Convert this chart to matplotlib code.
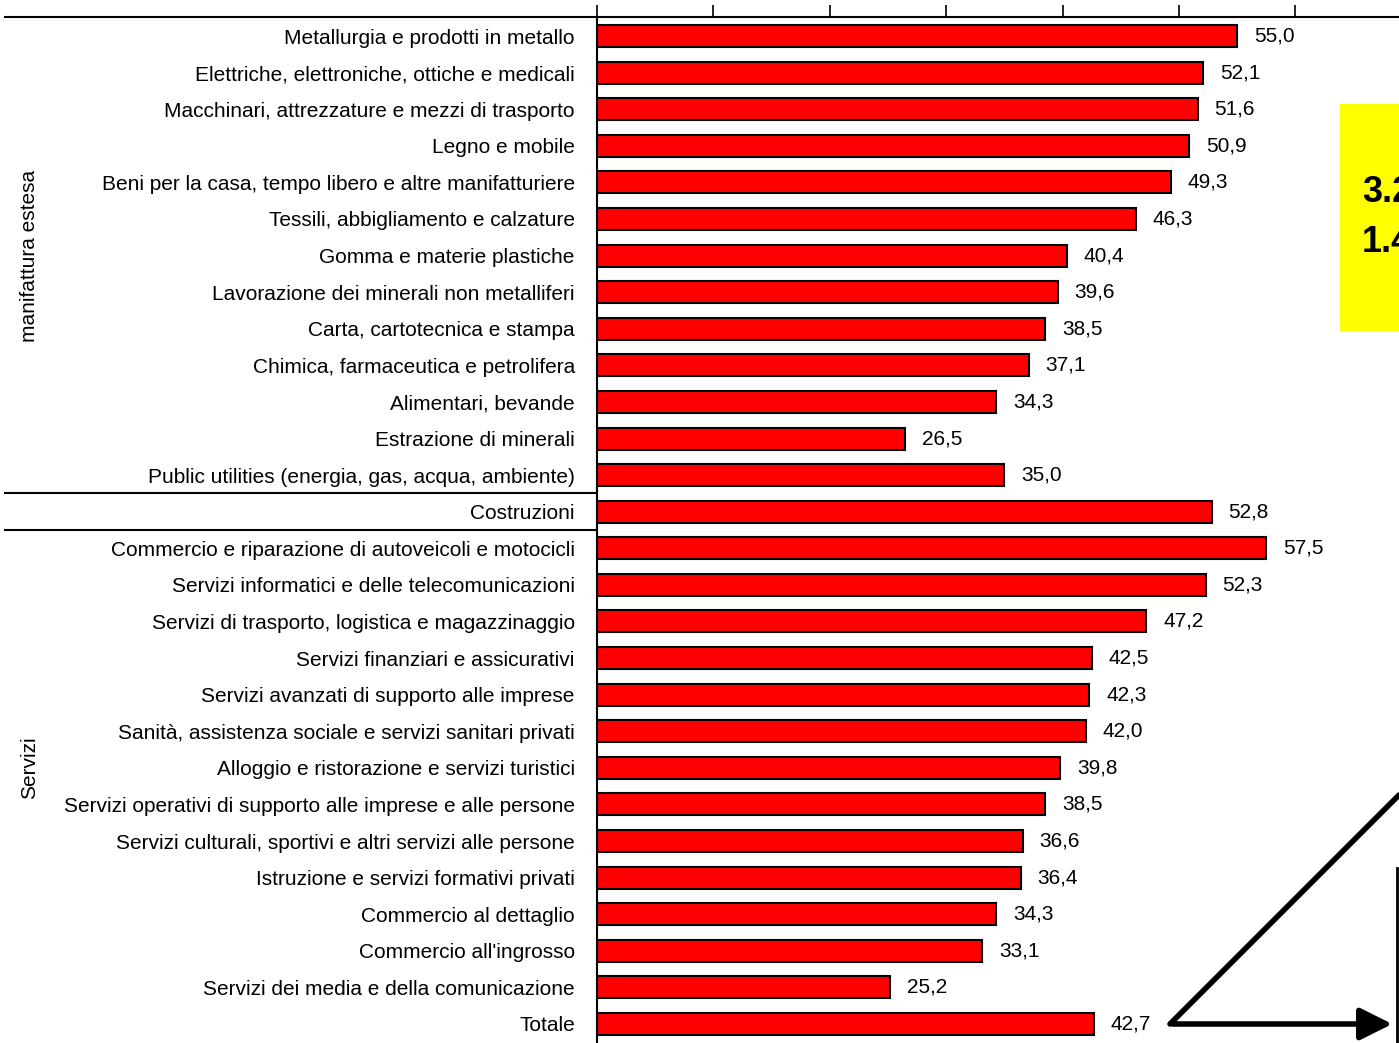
import matplotlib.pyplot as plt
from matplotlib.lines import Line2D
from matplotlib.patches import Rectangle, FancyArrowPatch
from matplotlib.transforms import blended_transform_factory

settori = [
    "Metallurgia e prodotti in metallo",
    "Elettriche, elettroniche, ottiche e medicali",
    "Macchinari, attrezzature e mezzi di trasporto",
    "Legno e mobile",
    "Beni per la casa, tempo libero e altre manifatturiere",
    "Tessili, abbigliamento e calzature",
    "Gomma e materie plastiche",
    "Lavorazione dei minerali non metalliferi",
    "Carta, cartotecnica e stampa",
    "Chimica, farmaceutica e petrolifera",
    "Alimentari, bevande",
    "Estrazione di minerali",
    "Public utilities (energia, gas, acqua, ambiente)",
    "Costruzioni",
    "Commercio e riparazione di autoveicoli e motocicli",
    "Servizi informatici e delle telecomunicazioni",
    "Servizi di trasporto, logistica e magazzinaggio",
    "Servizi finanziari e assicurativi",
    "Servizi avanzati di supporto alle imprese",
    "Sanità, assistenza sociale e servizi sanitari privati",
    "Alloggio e ristorazione e servizi turistici",
    "Servizi operativi di supporto alle imprese e alle persone",
    "Servizi culturali, sportivi e altri servizi alle persone",
    "Istruzione e servizi formativi privati",
    "Commercio al dettaglio",
    "Commercio all'ingrosso",
    "Servizi dei media e della comunicazione",
    "Totale",
]
valori = [55.0, 52.1, 51.6, 50.9, 49.3, 46.3, 40.4, 39.6, 38.5, 37.1, 34.3, 26.5, 35.0,
          52.8,
          57.5, 52.3, 47.2, 42.5, 42.3, 42.0, 39.8, 38.5, 36.6, 36.4, 34.3, 33.1, 25.2,
          42.7]
gruppi = [("manifattura estesa", 0, 12), ("Servizi", 14, 26)]
riquadro = ["3.2", "1.4"]

plt.rcParams['font.family'] = ['Liberation Sans', 'DejaVu Sans']

W, H = 1399, 1043
fig = plt.figure(figsize=(W / 100, H / 100), dpi=100)
ax = fig.add_axes([597 / W, 0, 1 - 597 / W, 1 - 17 / H])

y = list(range(len(settori)))
ax.barh(y, valori, height=0.6, color='#ff0000', edgecolor='black', linewidth=1.5)
ax.set_xlim(0, (W - 597) / 11.64)
ax.set_ylim(len(settori) - 0.48, -0.52)

ax.set_yticks(y)
ax.set_yticklabels(settori, fontsize=15)
ax.tick_params(axis='y', length=0, pad=16)
ax.xaxis.tick_top()
ax.set_xticks(range(0, 70, 10))
ax.tick_params(axis='x', length=9, width=1.2, direction='out', labeltop=False)
for s in ['right', 'bottom']:
    ax.spines[s].set_visible(False)
ax.spines['top'].set_linewidth(1.5)
ax.spines['left'].set_linewidth(1.5)

for yi, v in zip(y, valori):
    ax.annotate(f"{v:.1f}".replace('.', ','), (v, yi), xytext=(12, 0),
                textcoords='offset points', va='center', ha='left', fontsize=15)

# separatori e etichette di gruppo
tr = blended_transform_factory(fig.transFigure, ax.transData)
for ys in [-0.52, 12.5, 13.5]:
    fig.add_artist(Line2D([5 / W, 597 / W], [ys, ys], transform=tr, color='black', lw=1.5))
for nome, a, b in gruppi:
    fig.text(30 / W, (a + b) / 2, nome, transform=tr,
             rotation=90, ha='center', va='center', fontsize=15)

# riquadro giallo (tagliato dal bordo)
fig.add_artist(Rectangle((1340 / W, 1 - 331 / H), 0.1, 227 / H, transform=fig.transFigure,
                         facecolor='#ffff00', edgecolor='none'))
fig.text(1362 / W, 1 - 193 / H, riquadro[0], fontsize=26, fontweight='bold',
         va='center', ha='left')
fig.text(1362 / W, 1 - 243 / H, riquadro[1], fontsize=26, fontweight='bold',
         va='center', ha='left')

# frecce
fig.add_artist(FancyArrowPatch((1170 / W, 1 - 1024 / H), (1395 / W, 1 - 1024 / H),
                               transform=fig.transFigure, arrowstyle='-|>,head_length=1.4,head_width=0.7',
                               mutation_scale=14, lw=4, color='black'))
fig.add_artist(Line2D([1170 / W, 1.0], [1 - 1024 / H, 1 - 795 / H], transform=fig.transFigure,
                      color='black', lw=4, solid_capstyle='round'))
fig.add_artist(Line2D([1397 / W, 1397 / W], [0, 1 - 868 / H], transform=fig.transFigure,
                      color='black', lw=2))

fig.savefig('out.png', dpi=100)
